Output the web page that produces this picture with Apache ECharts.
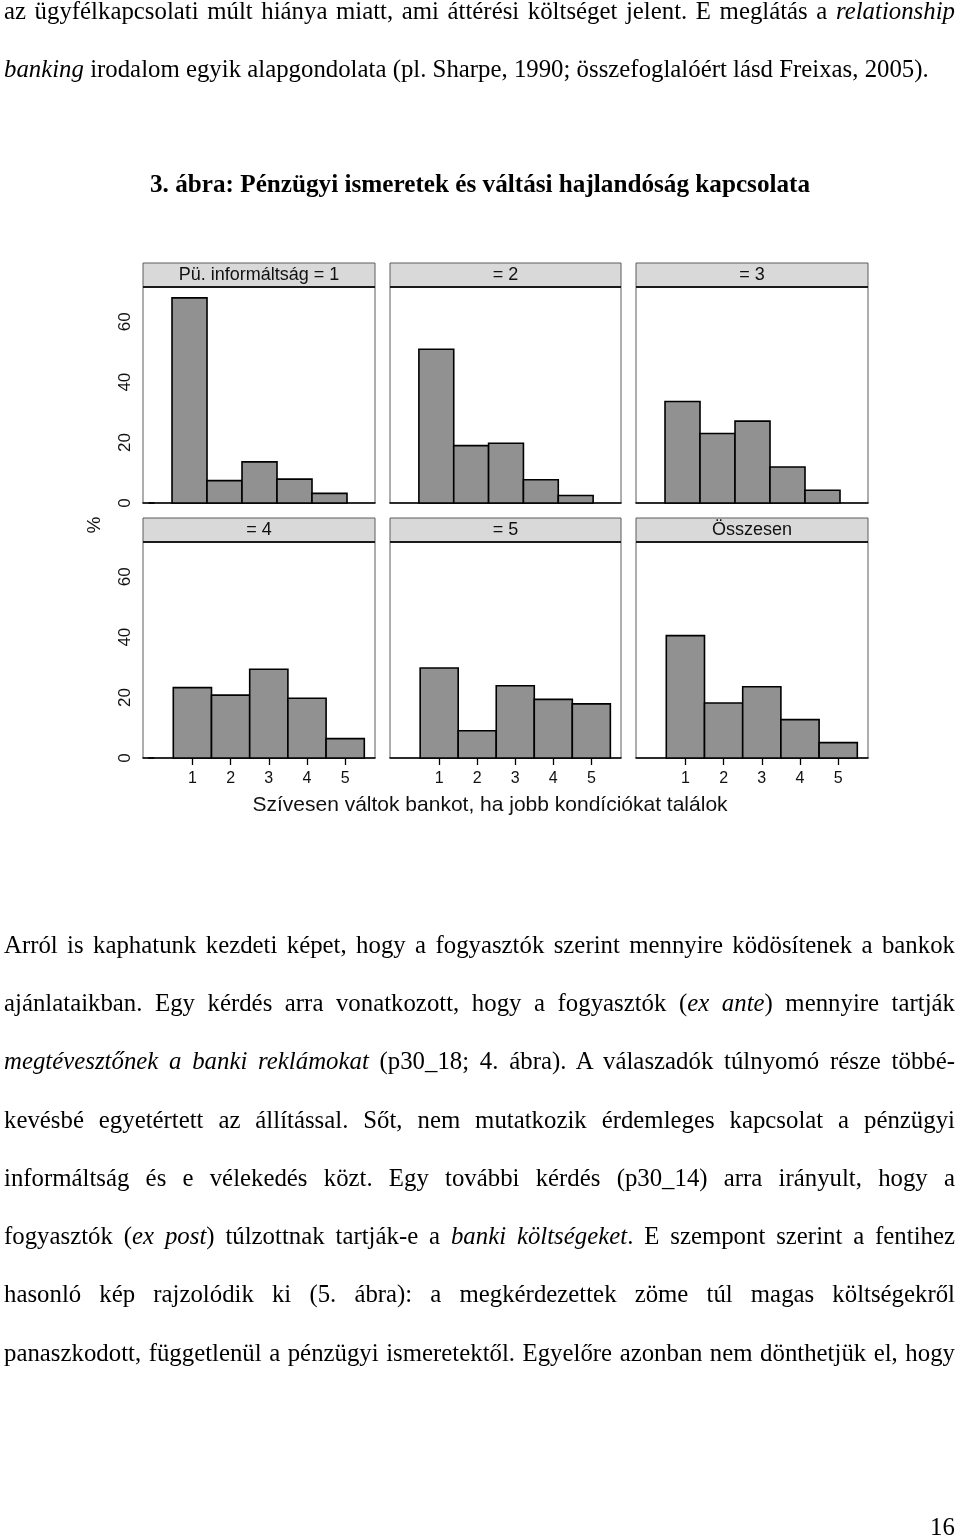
<!DOCTYPE html>
<html><head><meta charset="utf-8">
<script src="https://cdn.jsdelivr.net/npm/echarts@6/dist/echarts.min.js"></script>
<style>
html,body{margin:0;padding:0;background:#fff;}
body{width:960px;height:1537px;position:relative;overflow:hidden;font-family:"Liberation Serif","Times New Roman",serif;color:#000;}
#chart{position:absolute;left:0;top:0;width:960px;height:1537px;z-index:0;}
.ln{position:absolute;left:4px;white-space:nowrap;font-size:25px;line-height:25px;transform-origin:0 0;z-index:1;}
.just{text-align:justify;text-align-last:justify;white-space:normal;}
.cap{font-weight:bold;font-size:25px;line-height:25px;}
</style>
</head>
<body>
<div id="chart"></div>

<div class="ln just" style="top:-2px">az ügyfélkapcsolati múlt hiánya miatt, ami áttérési költséget jelent. E meglátás a <i>relationship</i></div>
<div class="ln" id="l2" style="top:56px"><i>banking</i> irodalom egyik alapgondolata (pl. Sharpe, 1990; összefoglalóért lásd Freixas, 2005).</div>
<div class="ln cap" id="cap" style="top:171px">3. ábra: Pénzügyi ismeretek és váltási hajlandóság kapcsolata</div>

<div class="ln just" style="top:932px">Arról is kaphatunk kezdeti képet, hogy a fogyasztók szerint mennyire ködösítenek a bankok</div>
<div class="ln just" style="top:990px">ajánlataikban. Egy kérdés arra vonatkozott, hogy a fogyasztók (<i>ex ante</i>) mennyire tartják</div>
<div class="ln just" style="top:1048px"><i>megtévesztőnek a banki reklámokat</i> (p30_18; 4. ábra). A válaszadók túlnyomó része többé-</div>
<div class="ln just" style="top:1107px">kevésbé egyetértett az állítással. Sőt, nem mutatkozik érdemleges kapcsolat a pénzügyi</div>
<div class="ln just" style="top:1165px">informáltság és e vélekedés közt. Egy további kérdés (p30_14) arra irányult, hogy a</div>
<div class="ln just" style="top:1223px">fogyasztók (<i>ex post</i>) túlzottnak tartják-e a <i>banki költségeket</i>. E szempont szerint a fentihez</div>
<div class="ln just" style="top:1281px">hasonló kép rajzolódik ki (5. ábra): a megkérdezettek zöme túl magas költségekről</div>
<div class="ln just" style="top:1340px">panaszkodott, függetlenül a pénzügyi ismeretektől. Egyelőre azonban nem dönthetjük el, hogy</div>

<div class="ln" id="pg" style="top:1514px">16</div>

<script>
// ---- data ----
const categories = [1, 2, 3, 4, 5];
const panelTitles = ['Pü. informáltság = 1', '= 2', '= 3', '= 4', '= 5', 'Összesen'];
const info1 = [67.9, 7.4, 13.6, 7.9, 3.2];
const info2 = [50.9, 19.0, 19.8, 7.7, 2.5];
const info3 = [33.6, 23.0, 27.1, 11.9, 4.2];
const info4 = [23.3, 20.8, 29.4, 19.8, 6.4];
const info5 = [29.8, 9.0, 23.9, 19.4, 17.9];
const total = [40.5, 18.2, 23.6, 12.7, 5.1];
const yTickValues = [0, 20, 40, 60];
const yName = '%';
const xName = 'Szívesen váltok bankot, ha jobb kondíciókat találok';
const panels = [info1, info2, info3, info4, info5, total];

// ---- text fitting (page text appears horizontally condensed) ----
(function(){
  const l2 = document.getElementById('l2');
  const s = 925 / l2.offsetWidth;
  document.querySelectorAll('.ln').forEach(el => {
    if (el.id === 'cap') return;
    el.style.transform = 'scaleX(' + s + ')';
    if (el.classList.contains('just')) el.style.width = (951 / s) + 'px';
  });
  const cap = document.getElementById('cap');
  const cs = 660 / cap.offsetWidth;
  cap.style.transform = 'scaleX(' + cs + ')';
  cap.style.left = '150px';
  const pg = document.getElementById('pg');
  pg.style.left = (955 - pg.offsetWidth * s) + 'px';
})();

// ---- layout ----
const colLeft = [143, 390, 636];
const colWidth = [232, 231, 232];
const rowTop = [287, 542];
const plotH = 216;
const headH = 24;
const xRange = [[-0.329, 6.30], [-0.293, 5.78]];
const sansFont = '"Liberation Sans", Arial, Helvetica, sans-serif';

const grid = [], xAxis = [], yAxis = [], series = [], graphic = [];
panels.forEach((vals, i) => {
  const r = Math.floor(i / 3), c = i % 3;
  grid.push({left: colLeft[c], top: rowTop[r], width: colWidth[c], height: plotH,
    show: true, backgroundColor: '#fff', borderColor: '#5c5c5c', borderWidth: 1});
  xAxis.push({gridIndex: i, type: 'value', min: xRange[r][0], max: xRange[r][1],
    axisLine: {show: true, onZero: false, lineStyle: {color: '#000', width: 1.6}},
    axisTick: {show: r === 1, customValues: categories, length: 7, lineStyle: {color: '#000', width: 1.3}},
    axisLabel: {show: r === 1, customValues: categories, fontFamily: sansFont, fontSize: 16, color: '#111', margin: 13},
    splitLine: {show: false}});
  yAxis.push({gridIndex: i, type: 'value', min: 0, max: 71.5, interval: 20,
    axisLine: {show: false},
    axisTick: {show: c === 0, customValues: [0], length: 6, lineStyle: {color: '#000', width: 1.6}},
    axisLabel: {show: c === 0, customValues: yTickValues, rotate: 90, fontFamily: sansFont, fontSize: 17, color: '#111', margin: 9},
    splitLine: {show: true, showMinLine: false, showMaxLine: false, lineStyle: {color: '#e4e4e4', width: 1.5}}});
  series.push({type: 'custom', xAxisIndex: i, yAxisIndex: i, z: 3,
    data: vals.map((v, k) => [categories[k], v]),
    renderItem: function (params, api) {
      const x = api.value(0), y = api.value(1);
      const a = api.coord([x - 0.5, y]);
      const b = api.coord([x + 0.5, 0]);
      return {type: 'rect', shape: {x: a[0], y: a[1], width: b[0] - a[0], height: b[1] - a[1]},
        style: {fill: '#919191', stroke: '#000', lineWidth: 1.6}};
    }});
  const L = colLeft[c], W = colWidth[c], T = rowTop[r];
  graphic.push({type: 'rect', z: 100, shape: {x: L, y: T - headH, width: W, height: headH},
    style: {fill: '#d9d9d9', stroke: '#5c5c5c', lineWidth: 1}});
  graphic.push({type: 'line', z: 101, shape: {x1: L, y1: T, x2: L + W, y2: T},
    style: {stroke: '#1a1a1a', lineWidth: 2}});
  graphic.push({type: 'text', z: 102, x: L + W / 2, y: T - headH / 2,
    style: {text: panelTitles[i], align: 'center', verticalAlign: 'middle', textAlign: 'center', textVerticalAlign: 'middle',
      fontSize: 18, fontFamily: sansFont, fill: '#111'}});
});
graphic.push({type: 'text', z: 102, x: 95, y: 525, rotation: Math.PI / 2,
  style: {text: yName, align: 'center', verticalAlign: 'middle', textAlign: 'center', textVerticalAlign: 'middle',
    fontSize: 19, fontFamily: sansFont, fill: '#111'}});
graphic.push({type: 'text', z: 102, x: 490, y: 805,
  style: {text: xName, align: 'center', verticalAlign: 'middle', textAlign: 'center', textVerticalAlign: 'middle',
    fontSize: 21, fontFamily: sansFont, fill: '#111'}});

const chart = echarts.init(document.getElementById('chart'), null, {renderer: 'canvas'});
chart.setOption({animation: false, backgroundColor: '#fff', grid, xAxis, yAxis, series, graphic});
</script>
</body></html>
